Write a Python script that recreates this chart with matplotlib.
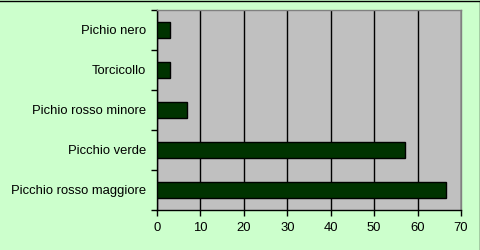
import matplotlib
matplotlib.use("Agg")
import matplotlib.pyplot as plt
from matplotlib.lines import Line2D

categories = ["Pichio nero", "Torcicollo", "Pichio rosso minore", "Picchio verde", "Picchio rosso maggiore"]
values = [3, 3, 7, 57, 66.5]
xticks = [0, 10, 20, 30, 40, 50, 60, 70]

plt.rcParams['font.family'] = ['Liberation Sans', 'DejaVu Sans']

fig = plt.figure(figsize=(4.8, 2.5), dpi=100, facecolor='#CCFFCC')
ax = fig.add_axes([157/480, 1-209.5/250, (461-157)/480, (209.5-10)/250])
ax.set_facecolor('#C0C0C0')

n = len(categories)
ypos = list(range(n))[::-1]
ax.barh(ypos, values, height=0.4, color='#003300', edgecolor='black', linewidth=1, zorder=3)

ax.set_xlim(0, 70)
ax.set_ylim(-0.5, n - 0.5)
ax.set_xticks(xticks)
ax.set_xticklabels([str(t) for t in xticks], fontsize=9.4)
ax.set_yticks(ypos)
ax.set_yticklabels(categories, fontsize=9.4)
ax.tick_params(axis='y', length=0, pad=8)
ax.tick_params(axis='x', length=4, width=1, pad=5, direction='out')

# category boundary ticks on y axis
ax.set_yticks([i - 0.5 for i in range(n + 1)], minor=True)
ax.tick_params(axis='y', which='minor', length=4, width=1, direction='out')

ax.grid(axis='x', color='black', linewidth=1, zorder=1)
ax.set_axisbelow(True)

for s in ['top', 'right']:
    ax.spines[s].set_color('#808080')
    ax.spines[s].set_linewidth(1)
for s in ['left', 'bottom']:
    ax.spines[s].set_color('black')
    ax.spines[s].set_linewidth(1)

# figure border (top and right)
fig.add_artist(Line2D([0, 479.5/480], [1-0.5/250, 1-0.5/250], color='black', linewidth=1, transform=fig.transFigure))
fig.add_artist(Line2D([479.5/480, 479.5/480], [0, 1-0.5/250], color='black', linewidth=1, transform=fig.transFigure))

fig.savefig("out.png", dpi=100, facecolor=fig.get_facecolor())
